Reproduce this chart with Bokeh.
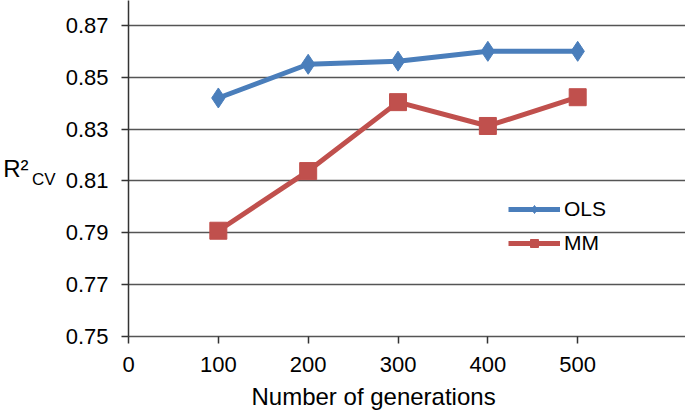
from bokeh.plotting import figure
from bokeh.models import (Range1d, FixedTicker, Legend, LegendItem, LinearAxis,
                          CustomJSTickFormatter, Title)
from bokeh.embed import file_html
from bokeh.resources import INLINE

generations = [100, 200, 300, 400, 500]
ols = [0.842, 0.855, 0.8562, 0.860, 0.860]
mm = [0.7908, 0.8138, 0.8404, 0.8312, 0.8423]
x_ticks = [0, 100, 200, 300, 400, 500]
y_ticks = [0.75, 0.77, 0.79, 0.81, 0.83, 0.85, 0.87]

FONT = "Liberation Sans"
BLUE = "#4A7EBB"
RED = "#C0504D"

p = figure(width=685, height=415, output_backend="svg", toolbar_location=None,
           x_range=Range1d(0, 620), y_range=Range1d(0.75, 0.8796),
           min_border_left=127, min_border_right=0, min_border_top=0, min_border_bottom=78)
p.outline_line_color = None

p.xgrid.grid_line_color = None
p.ygrid.grid_line_color = "#555555"
p.ygrid.grid_line_width = 1.5
p.ygrid.ticker = FixedTicker(ticks=y_ticks)

p.xaxis.ticker = FixedTicker(ticks=x_ticks)
p.yaxis.ticker = FixedTicker(ticks=y_ticks)
p.yaxis.formatter = CustomJSTickFormatter(code="return tick.toFixed(2);")

for ax in (p.xaxis[0], p.yaxis[0]):
    ax.axis_line_color = "#333333"
    ax.axis_line_width = 1.5
    ax.major_tick_line_color = "#333333"
    ax.major_tick_line_width = 1.5
    ax.major_tick_in = 0
    ax.major_tick_out = 7
    ax.minor_tick_line_color = None
    ax.major_label_text_font = FONT
    ax.major_label_text_font_size = "22px"
    ax.major_label_text_color = "black"
    ax.major_label_standoff = 13
p.xaxis.axis_line_color = "#555555"

# y-axis title: "R²" with subscript "CV", as two extra label-only axes on the left
def label_axis(text, size, standoff):
    return LinearAxis(ticker=FixedTicker(ticks=[]), axis_label=text,
                      axis_line_color=None, major_tick_line_color=None,
                      minor_tick_line_color=None, major_tick_out=0, major_tick_in=0,
                      major_label_text_font_size="0px",
                      axis_label_orientation="horizontal",
                      axis_label_text_font=FONT, axis_label_text_font_size=size,
                      axis_label_text_font_style="normal", axis_label_text_color="black",
                      axis_label_standoff=standoff)

p.add_layout(label_axis("\nCV", "17px", 7), "left")
p.add_layout(label_axis("R²", "24px", 0), "left")

p.add_layout(Title(text="Number of generations", align="left", offset=123,
                   text_font=FONT, text_font_size="24px", text_font_style="normal",
                   text_color="black", standoff=12), "below")

l1 = p.line(generations, ols, line_color=BLUE, line_width=5)
m1 = p.scatter(generations, ols, marker="diamond", size=20, fill_color=BLUE, line_color=BLUE)
l2 = p.line(generations, mm, line_color=RED, line_width=5)
m2 = p.scatter(generations, mm, marker="square", size=17, fill_color=RED, line_color=RED)

legend = Legend(items=[LegendItem(label="OLS", renderers=[l1, m1]),
                       LegendItem(label="MM", renderers=[l2, m2])],
                location=(380, 81), background_fill_alpha=0, border_line_color=None,
                padding=0, margin=0, spacing=10, glyph_width=52, glyph_height=20,
                label_height=20, label_standoff=4, label_text_font=FONT,
                label_text_font_size="21px", label_text_color="black")
p.add_layout(legend)

open("out.html", "w").write(file_html(p, INLINE))
